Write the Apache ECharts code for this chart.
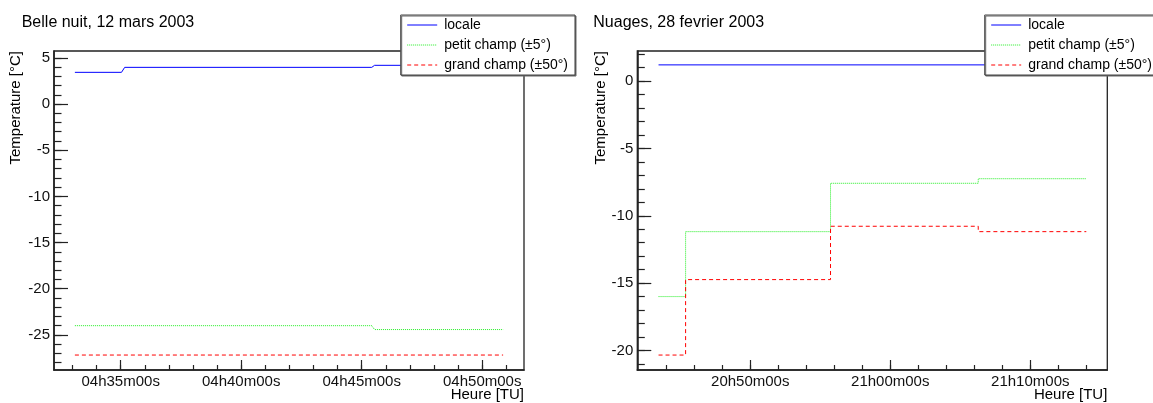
<!DOCTYPE html>
<html>
<head>
<meta charset="utf-8">
<script src="https://cdn.jsdelivr.net/npm/echarts@6/dist/echarts.min.js"></script>
<style>html,body{margin:0;padding:0;background:#fff}#c{width:1153px;height:403px}</style>
</head>
<body>
<div id="c"></div>
<script>
// ---------- data ----------
const seriesNames = ['locale', 'petit champ (\u00b15\u00b0)', 'grand champ (\u00b150\u00b0)'];

// Left: Belle nuit, 12 mars 2003
const leftLocaleT = ['04:33:06', '04:35:02', '04:35:10', '04:45:25', '04:45:32', '04:50:52'];
const leftLocaleV = [3.43, 3.43, 3.97, 3.97, 4.19, 4.19];
const leftPetitT  = ['04:33:06', '04:45:25', '04:45:32', '04:50:52'];
const leftPetitV  = [-24.0, -24.0, -24.42, -24.42];
const leftGrandT  = ['04:33:06', '04:50:52'];
const leftGrandV  = [-27.18, -27.18];

// Right: Nuages, 28 fevrier 2003 (values change at given times)
const rightLocaleT = ['20:43:27', '21:14:00'];
const rightLocaleV = [1.2, 1.2];
const rightPetitT  = ['20:43:27', '20:45:23', '20:55:44', '21:06:17', '21:14:00'];
const rightPetitV  = [-16.0, -11.18, -7.59, -7.25, -7.25];
const rightGrandT  = ['20:43:27', '20:45:23', '20:55:44', '21:06:17', '21:14:00'];
const rightGrandV  = [-20.34, -14.74, -10.78, -11.18, -11.18];

// ticks
const leftXMajor  = ['04:35:00', '04:40:00', '04:45:00', '04:50:00'];
const leftXMinorFrom = '04:33:00', leftXMinorTo = '04:51:00', leftXMinorStep = 60;
const rightXMajor = ['20:50:00', '21:00:00', '21:10:00'];
const rightXMinorFrom = '20:44:00', rightXMinorTo = '21:14:00', rightXMinorStep = 120;
const leftYMajor  = [5, 0, -5, -10, -15, -20, -25];
const leftYMinorRange = [-28, 5];
const rightYMajor = [0, -5, -10, -15, -20];
const rightYMinorRange = [-21, 2];

// axis ranges
const leftXRange  = ['04:32:14', '04:51:44'];
const rightXRange = ['20:41:56', '21:15:30'];
const leftYRange  = [-28.8, 5.74];
const rightYRange = [-21.45, 2.23];

// ---------- helpers ----------
function sec(s) { const p = s.split(':').map(Number); return p[0] * 3600 + p[1] * 60 + p[2]; }
function pad(n) { return (n < 10 ? '0' : '') + n; }
function fmt(v) { v = Math.round(v); const h = Math.floor(v / 3600), m = Math.floor((v % 3600) / 60), s = v % 60; return pad(h) + 'h' + pad(m) + 'm' + pad(s) + 's'; }
function pts(T, V) { return T.map((t, i) => [sec(t), V[i]]); }
function range(a, b, st) { const r = []; for (let v = a; v <= b + 1e-9; v += st) r.push(v); return r; }

const FONT = 'Liberation Sans, Arial, Helvetica, sans-serif';
const AX = '#222';
const COL = ['#0000ff', '#22ee22', '#ff0000'];
const LT = ['solid', 'dotted', [4, 3]];

const grids = [
  { left: 54, top: 51, right: 1153 - 524, bottom: 33 },
  { left: 637.3, top: 51, right: 1153 - 1107.3, bottom: 33 }
];

function xMajor(gi, r, majors) {
  return {
    type: 'value', gridIndex: gi, position: 'bottom', min: sec(r[0]), max: sec(r[1]),
    axisLine: { show: true, onZero: false, lineStyle: { color: AX, width: 1.6 } },
    axisTick: { show: true, inside: true, length: 10, customValues: majors.map(sec), lineStyle: { color: AX, width: 1.2 } },
    axisLabel: { show: true, customValues: majors.map(sec), formatter: fmt, margin: 4, fontSize: 15, color: '#111', fontFamily: FONT },
    splitLine: { show: false }
  };
}
function xMinor(gi, r, from, to, st) {
  return {
    type: 'value', gridIndex: gi, position: 'bottom', min: sec(r[0]), max: sec(r[1]),
    axisLine: { show: false, onZero: false },
    axisTick: { show: true, inside: true, length: 5, customValues: range(sec(from), sec(to), st), lineStyle: { color: AX, width: 1.2 } },
    axisLabel: { show: false }, splitLine: { show: false }
  };
}
function yMajor(gi, r, majors) {
  return {
    type: 'value', gridIndex: gi, position: 'left', min: r[0], max: r[1],
    axisLine: { show: true, onZero: false, lineStyle: { color: AX, width: 1.6 } },
    axisTick: { show: true, inside: true, length: 14, customValues: majors, lineStyle: { color: AX, width: 1.2 } },
    axisLabel: { show: true, customValues: majors, margin: 4, fontSize: 15, color: '#111', fontFamily: FONT },
    splitLine: { show: false }
  };
}
function yMinor(gi, r, mr) {
  return {
    type: 'value', gridIndex: gi, position: 'left', min: r[0], max: r[1],
    axisLine: { show: false, onZero: false },
    axisTick: { show: true, inside: true, length: 7.5, customValues: range(mr[0], mr[1], 1), lineStyle: { color: AX, width: 1.2 } },
    axisLabel: { show: false }, splitLine: { show: false }
  };
}
function line(name, k, data, xi, yi, step) {
  return {
    type: 'line', name: name, data: data, xAxisIndex: xi, yAxisIndex: yi,
    step: step || false, symbol: 'none', showSymbol: false, animation: false,
    lineStyle: { color: COL[k], width: 1, type: LT[k] }, itemStyle: { color: COL[k] }
  };
}
function legend(left) {
  return {
    left: left, top: 15, orient: 'vertical', data: seriesNames,
    itemWidth: 30, itemHeight: 14, itemGap: 6, padding: [3, 7, 3, 6],
    backgroundColor: '#fff', borderColor: '#444', borderWidth: 1,
    shadowColor: '#666', shadowOffsetX: 1, shadowOffsetY: 1, shadowBlur: 0,
    itemStyle: { opacity: 0, borderWidth: 0 },
    lineStyle: { width: 1 },
    textStyle: { fontSize: 14, color: '#000', fontFamily: FONT, padding: [0, 0, 0, 2] },
    selectedMode: false
  };
}

const option = {
  animation: false,
  backgroundColor: '#fff',
  title: [
    { text: 'Belle nuit, 12 mars 2003', left: 21.7, top: 14.4, padding: 0, textStyle: { fontSize: 16, fontWeight: 'normal', color: '#000', fontFamily: FONT, lineHeight: 16 } },
    { text: 'Nuages, 28 fevrier 2003', left: 593.3, top: 14.4, padding: 0, textStyle: { fontSize: 16, fontWeight: 'normal', color: '#000', fontFamily: FONT, lineHeight: 16 } }
  ],
  grid: grids.map(g => Object.assign({ show: true, borderColor: AX, borderWidth: 1.3, backgroundColor: 'transparent', containLabel: false }, g)),
  xAxis: [
    xMajor(0, leftXRange, leftXMajor),
    xMinor(0, leftXRange, leftXMinorFrom, leftXMinorTo, leftXMinorStep),
    xMajor(1, rightXRange, rightXMajor),
    xMinor(1, rightXRange, rightXMinorFrom, rightXMinorTo, rightXMinorStep)
  ],
  yAxis: [
    yMajor(0, leftYRange, leftYMajor),
    yMinor(0, leftYRange, leftYMinorRange),
    yMajor(1, rightYRange, rightYMajor),
    yMinor(1, rightYRange, rightYMinorRange)
  ],
  legend: [legend(400.7), legend(984.7)],
  series: [
    line(seriesNames[0], 0, pts(leftLocaleT, leftLocaleV), 0, 0),
    line(seriesNames[1], 1, pts(leftPetitT, leftPetitV), 0, 0),
    line(seriesNames[2], 2, pts(leftGrandT, leftGrandV), 0, 0),
    line(seriesNames[0], 0, pts(rightLocaleT, rightLocaleV), 2, 2, 'end'),
    line(seriesNames[1], 1, pts(rightPetitT, rightPetitV), 2, 2, 'end'),
    line(seriesNames[2], 2, pts(rightGrandT, rightGrandV), 2, 2, 'end')
  ],
  graphic: [
    { type: 'text', x: 16, y: 51, rotation: Math.PI / 2, style: { text: 'Temperature [\u00b0C]', align: 'right', verticalAlign: 'middle', fontSize: 15, fontFamily: FONT, fill: '#000' } },
    { type: 'text', x: 600.8, y: 51, rotation: Math.PI / 2, style: { text: 'Temperature [\u00b0C]', align: 'right', verticalAlign: 'middle', fontSize: 15, fontFamily: FONT, fill: '#000' } },
    { type: 'text', x: 524, y: 395, style: { text: 'Heure [TU]', align: 'right', verticalAlign: 'middle', fontSize: 15, fontFamily: FONT, fill: '#000' } },
    { type: 'text', x: 1107.3, y: 395, style: { text: 'Heure [TU]', align: 'right', verticalAlign: 'middle', fontSize: 15, fontFamily: FONT, fill: '#000' } }
  ]
};

const chart = echarts.init(document.getElementById('c'), null, { renderer: 'canvas' });
chart.setOption(option);
</script>
</body>
</html>
